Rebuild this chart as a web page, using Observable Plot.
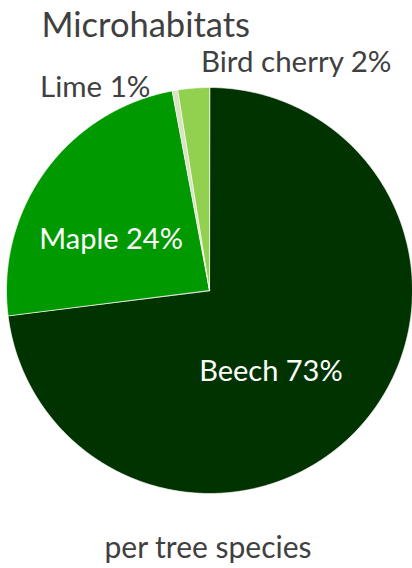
<!DOCTYPE html>
<html><head><meta charset="utf-8">
<script src="https://cdn.jsdelivr.net/npm/d3@7"></script>
<script src="https://cdn.jsdelivr.net/npm/@observablehq/plot@0.6"></script>
<style>html,body{margin:0;padding:0;background:#fff;overflow:hidden}</style>
</head><body><div id="chart"></div>
<script>
// ---- data ----
const species = ["Beech", "Maple", "Lime", "Bird cherry"];
const shares = [73.0, 24.05, 0.45, 2.5];
const labels = ["Beech 73%", "Maple 24%", "Lime 1%", "Bird cherry 2%"];
const colors = ["#003300", "#009900", "#d7e4bd", "#92d050"];
const title = "Microhabitats";
const caption = "per tree species";

// ---- label styling (radial factor, offsets) ----
const labelStyle = [
  {k: 0.41, dx: -1, dy: 35, anchor: "middle", inside: true},
  {k: 0.60, dx: 0, dy: 30, anchor: "middle", inside: true},
  {k: 1.10, dx: -21, dy: 27, anchor: "end", inside: false},
  {k: 1.10, dx: 9, dy: 4, anchor: "start", inside: false}
];

const arcs = d3.pie().sort(null).value(d => d)(shares);

function wedge(a0, a1) {
  const pts = [[0, 0]];
  const n = Math.max(4, Math.ceil((a1 - a0) / 0.005));
  for (let i = 0; i <= n; i++) {
    const a = a0 + (a1 - a0) * i / n;
    pts.push([Math.sin(a), -Math.cos(a)]);
  }
  pts.push([0, 0]);
  return pts;
}

const slices = arcs.map((a, i) => ({
  type: "Feature",
  properties: {species: species[i]},
  geometry: {type: "Polygon", coordinates: [wedge(a.startAngle, a.endAngle)]}
}));

const labelData = arcs.map((a, i) => {
  const m = (a.startAngle + a.endAngle) / 2, s = labelStyle[i];
  return {text: labels[i], x: Math.sin(m) * s.k, y: -Math.cos(m) * s.k, ...s};
});

const textGrey = "#404040";
const font = "Lato";

const chart = Plot.plot({
  width: 412,
  height: 568,
  marginTop: 87,
  marginBottom: 75,
  marginLeft: 6,
  marginRight: 0,
  style: {fontFamily: font, background: "#fff"},
  projection: {type: "identity", clip: false, domain: {type: "MultiPoint", coordinates: [[-1, -1], [1, 1]]}},
  color: {domain: species, range: colors},
  marks: [
    Plot.geo(slices, {fill: d => d.properties.species, stroke: "white", strokeWidth: 0.7}),
    ...labelData.map(d => Plot.text([d], {
      x: "x", y: "y", text: "text", textAnchor: d.anchor, lineAnchor: "bottom", clip: false,
      dx: d.dx, dy: d.dy, fontSize: d.inside ? 29 : 29.5, fill: d.inside ? "white" : textGrey
    })),
    Plot.text([title], {frameAnchor: "top-left", text: d => d, textAnchor: "start", lineAnchor: "bottom",
      dx: 35, dy: -51, fontSize: 34.5, fill: textGrey}),
    Plot.text([caption], {frameAnchor: "bottom", text: d => d, textAnchor: "middle", lineAnchor: "bottom",
      dx: -1.5, dy: 64, fontSize: 30, fill: textGrey})
  ]
});
document.getElementById("chart").appendChild(chart);
</script>
</body></html>
